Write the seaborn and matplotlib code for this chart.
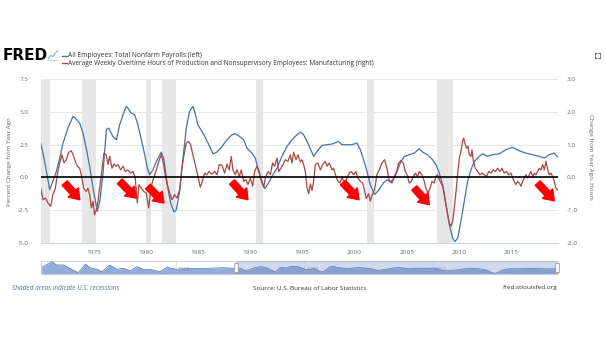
import numpy as np
import pandas as pd
import matplotlib
matplotlib.use("Agg")
import matplotlib.pyplot as plt
import seaborn as sns
from matplotlib.patches import Rectangle
from matplotlib.lines import Line2D

# ---------------- data ----------------
payroll_years = [1969.95, 1970.32, 1970.8, 1971.1, 1971.44, 1971.76, 1972.08, 1972.55, 1973.04, 1973.2,
                 1973.67, 1973.99, 1974.3, 1974.63, 1974.95, 1975.37, 1975.6, 1975.9, 1976.23, 1976.45,
                 1976.87, 1977.2, 1977.5, 1977.83, 1978.14, 1978.3, 1978.62, 1978.94, 1979.26, 1979.58,
                 1979.84, 1980.16, 1980.38, 1980.7, 1981.02, 1981.5, 1981.75, 1982.07, 1982.39, 1982.71,
                 1982.93, 1983.25, 1983.57, 1983.89, 1984.2, 1984.52, 1984.69, 1985.0, 1985.49, 1985.97,
                 1986.45, 1986.83, 1987.31, 1987.79, 1988.27, 1988.58, 1988.9, 1989.38, 1989.7, 1990.18,
                 1990.5, 1990.82, 1991.14, 1991.4, 1991.71, 1992.1, 1992.58, 1993.05, 1993.53, 1994.01,
                 1994.49, 1994.81, 1995.13, 1995.61, 1996.09, 1996.41, 1996.89, 1997.37, 1997.84, 1998.48,
                 1998.8, 1999.28, 1999.76, 2000.24, 2000.56, 2000.88, 2001.2, 2001.52, 2001.93, 2002.31,
                 2002.79, 2003.11, 2003.5, 2003.82, 2004.14, 2004.46, 2004.78, 2005.25, 2005.73, 2006.21,
                 2006.53, 2007.01, 2007.49, 2007.81, 2008.13, 2008.45, 2008.77, 2009.09, 2009.41, 2009.63,
                 2009.89, 2010.2, 2010.52, 2010.84, 2011.16, 2011.48, 2011.96, 2012.28, 2012.76, 2013.24,
                 2013.88, 2014.51, 2015.15, 2015.79, 2016.43, 2017.07, 2017.71, 2018.19, 2018.67, 2019.14,
                 2019.46]
payroll_pct = [2.6, 1.22, -0.94, -0.3, 0.46, 1.47, 2.62, 3.76, 4.65, 4.57,
               4.14, 3.38, 2.24, 0.84, -0.81, -2.59, -1.83, 0.2, 3.63, 3.76,
               3.1, 2.87, 4.0, 4.78, 5.41, 5.28, 4.9, 4.78, 4.0, 2.87,
               1.98, 0.71, 0.2, 0.58, 1.22, 1.93, 1.35, -0.56, -1.96, -2.64,
               -2.46, -1.07, 1.47, 3.76, 5.03, 5.41, 5.03, 4.0, 3.38, 2.62,
               1.8, 1.93, 2.36, 2.87, 3.25, 3.33, 3.18, 2.87, 2.24, 1.85,
               1.47, 0.46, -0.3, -0.85, -0.5, 0.08, 0.71, 1.6, 2.36, 2.87,
               3.25, 3.46, 3.25, 2.49, 1.6, 1.98, 2.44, 2.49, 2.54, 2.74,
               2.49, 2.49, 2.49, 2.62, 2.11, 1.35, 0.46, -0.56, -1.3, -1.0,
               -0.4, -0.2, -0.3, -0.05, 0.58, 1.22, 1.6, 1.73, 1.85, 2.18,
               1.93, 1.73, 1.35, 0.97, 0.33, -0.56, -2.08, -3.61, -4.62, -4.9,
               -4.62, -3.35, -1.83, -0.3, 0.58, 1.22, 1.6, 1.8, 1.6, 1.73,
               1.8, 2.11, 2.29, 2.03, 1.85, 1.73, 1.6, 1.47, 1.73, 1.85,
               1.55]

overtime_years = [1969.94, 1970.17, 1970.4, 1970.64, 1970.9, 1971.1, 1971.35, 1971.53, 1971.76, 1971.98,
                  1972.18, 1972.4, 1972.62, 1972.88, 1973.04, 1973.26, 1973.45, 1973.67, 1973.83, 1974.06,
                  1974.3, 1974.47, 1974.63, 1974.8, 1974.95, 1975.1, 1975.27, 1975.43, 1975.58, 1975.75,
                  1976.0, 1976.23, 1976.39, 1976.55, 1976.77, 1976.96, 1977.19, 1977.35, 1977.6, 1977.83,
                  1978.05, 1978.3, 1978.56, 1978.78, 1979.0, 1979.2, 1979.36, 1979.58, 1979.84, 1980.06,
                  1980.29, 1980.53, 1980.8, 1981.02, 1981.25, 1981.5, 1981.69, 1981.88, 1982.07, 1982.3,
                  1982.52, 1982.77, 1983.0, 1983.25, 1983.47, 1983.67, 1983.89, 1984.1, 1984.3, 1984.52,
                  1984.75, 1985.0, 1985.23, 1985.42, 1985.65, 1985.87, 1986.07, 1986.3, 1986.45, 1986.6,
                  1986.83, 1987.05, 1987.31, 1987.56, 1987.79, 1988.0, 1988.2, 1988.36, 1988.58, 1988.75,
                  1988.97, 1989.16, 1989.38, 1989.6, 1989.8, 1990.02, 1990.25, 1990.44, 1990.66, 1990.88,
                  1991.08, 1991.3, 1991.46, 1991.71, 1991.94, 1992.16, 1992.35, 1992.58, 1992.74, 1992.96,
                  1993.15, 1993.37, 1993.63, 1993.85, 1994.01, 1994.17, 1994.4, 1994.59, 1994.81, 1994.97,
                  1995.13, 1995.29, 1995.45, 1995.61, 1995.77, 1995.93, 1996.09, 1996.25, 1996.5, 1996.73,
                  1996.95, 1997.2, 1997.37, 1997.59, 1997.84, 1998.0, 1998.23, 1998.42, 1998.64, 1998.8,
                  1999.06, 1999.28, 1999.5, 1999.7, 1999.92, 2000.14, 2000.33, 2000.56, 2000.78, 2000.97,
                  2001.13, 2001.35, 2001.52, 2001.74, 2001.93, 2002.15, 2002.38, 2002.63, 2002.88, 2003.11,
                  2003.34, 2003.59, 2003.82, 2004.04, 2004.23, 2004.46, 2004.68, 2004.87, 2005.03, 2005.25,
                  2005.45, 2005.64, 2005.83, 2006.05, 2006.21, 2006.47, 2006.69, 2006.85, 2007.04, 2007.24,
                  2007.43, 2007.65, 2007.81, 2007.97, 2008.13, 2008.29, 2008.45, 2008.61, 2008.77, 2008.93,
                  2009.09, 2009.25, 2009.41, 2009.57, 2009.73, 2009.89, 2010.05, 2010.2, 2010.36, 2010.46,
                  2010.62, 2010.75, 2010.87, 2011.0, 2011.16, 2011.26, 2011.39, 2011.58, 2011.8, 2012.02,
                  2012.22, 2012.44, 2012.66, 2012.85, 2013.08, 2013.3, 2013.49, 2013.72, 2013.94, 2014.13,
                  2014.35, 2014.58, 2014.77, 2014.99, 2015.15, 2015.31, 2015.47, 2015.63, 2015.79, 2015.95,
                  2016.11, 2016.27, 2016.43, 2016.59, 2016.75, 2016.91, 2017.07, 2017.23, 2017.39, 2017.55,
                  2017.71, 2017.87, 2018.03, 2018.19, 2018.35, 2018.51, 2018.67, 2018.83, 2018.98, 2019.14,
                  2019.3, 2019.46]
overtime_hours = [-0.33, -0.68, -0.63, -0.78, -0.88, -0.53, -0.33, 0.08, 0.44, 0.69,
                  0.44, 0.54, 0.77, 0.81, 0.69, 0.49, 0.34, 0.28, 0.08, -0.33,
                  -0.43, -0.33, -0.53, -0.93, -0.73, -1.14, -0.99, -0.73, -0.33, 0.08,
                  0.74, 0.69, 0.39, 0.64, 0.28, 0.41, 0.34, 0.39, 0.23, 0.34,
                  0.18, 0.23, 0.13, 0.18, -0.02, -0.78, -0.22, -0.33, -0.43, -0.48,
                  -0.93, -0.27, 0.03, 0.23, 0.49, 0.69, 0.44, 0.08, -0.22, -0.48,
                  -0.68, -0.53, -0.63, -0.38, 0.28, 0.69, 1.05, 1.1, 1.0, 0.69,
                  0.39, 0.03, -0.3, -0.12, 0.13, 0.08, 0.18, 0.1, 0.13, 0.18,
                  0.08, 0.39, 0.37, 0.13, 0.41, 0.23, 0.64, 0.23, 0.08, 0.23,
                  0.03, 0.23, -0.12, -0.07, -0.22, -0.02, -0.27, 0.18, 0.34, 0.18,
                  -0.12, -0.3, -0.02, 0.18, 0.08, 0.44, 0.34, 0.59, 0.18, 0.28,
                  0.39, 0.54, 0.49, 0.69, 0.44, 0.77, 0.54, 0.69, 0.47, 0.54,
                  0.39, 0.18, -0.3, -0.5, -0.2, -0.4, -0.12, 0.39, 0.44, 0.23,
                  0.39, 0.49, 0.34, 0.44, 0.23, 0.28, 0.03, -0.12, -0.17, 0.03,
                  -0.22, -0.02, 0.13, 0.18, 0.08, 0.18, -0.02, -0.12, -0.17, -0.4,
                  -0.65, -0.5, -0.72, -0.5, -0.38, 0.08, 0.23, 0.44, 0.54, 0.28,
                  -0.12, -0.17, 0.03, 0.18, 0.44, 0.51, 0.44, 0.18, 0.08, -0.17,
                  -0.12, 0.03, 0.13, 0.03, 0.18, 0.08, -0.12, -0.33, -0.48, -0.33,
                  -0.12, -0.17, 0.03, 0.08, -0.07, -0.17, -0.27, -0.53, -0.83, -1.14,
                  -1.39, -1.49, -1.34, -0.93, -0.43, 0.13, 0.59, 0.79, 1.1, 1.2,
                  1.0, 0.89, 0.95, 0.69, 0.64, 0.84, 0.49, 0.28, 0.18, 0.08,
                  0.13, 0.08, 0.03, 0.18, 0.13, 0.23, 0.18, 0.28, 0.18, 0.28,
                  0.13, 0.18, 0.08, 0.13, -0.02, -0.12, -0.22, -0.12, -0.17, -0.27,
                  -0.12, -0.02, 0.08, -0.02, 0.08, 0.18, 0.03, 0.13, 0.08, 0.18,
                  0.28, 0.23, 0.39, 0.23, 0.49, 0.23, 0.08, 0.13, 0.03, -0.12,
                  -0.33, -0.38]

# navigator history (payroll % change, 1939-1969)
nav_years = [1939.1, 1940.7, 1941.4, 1942.5, 1943.5, 1944.8, 1945.9, 1946.6, 1947.7, 1948.5,
             1949.7, 1950.8, 1951.8, 1952.9, 1953.9, 1954.9, 1956.0, 1957.5, 1958.6, 1960.1,
             1962.2, 1964.8, 1967.4, 1969.2]
nav_pct = [3.8, 12.0, 7.2, 7.2, 2.3, -4.1, 8.6, 3.2, 0.9, -2.6,
           7.2, 0.9, 2.3, -1.2, 4.7, 0.9, 0.9, -2.6, 3.8, 0.9,
           2.3, 2.3, 3.2, 2.3]

recessions = [(1969.92, 1970.87), (1973.87, 1975.2), (1980.0, 1980.54), (1981.54, 1982.87),
              (1990.54, 1991.2), (2001.2, 2001.87), (2007.92, 2009.45)]

x_ticks = [1975, 1980, 1985, 1990, 1995, 2000, 2005, 2010, 2015]
x_labels = ["1975", "1980", "1985", "1990", "1995", "2000", "2005", "2010", "2015"]
left_ticks = [7.5, 5.0, 2.5, 0.0, -2.5, -5.0]
left_labels = ["7.5", "5.0", "2.5", "0.0", "-2.5", "-5.0"]
right_ticks = [3.0, 2.0, 1.0, 0.0, -1.0, -2.0]
right_labels = ["3.0", "2.0", "1.0", "0.0", "-1.0", "-2.0"]
nav_ticks = [1960, 1980, 2000]

# red arrow annotations (left-axis data coordinates)
arrow_tail_x = [1972.24, 1977.51, 1980.22, 1988.27, 1998.90, 2005.73, 2017.55]
arrow_tail_y = [-0.43, -0.30, -0.69, -0.35, -0.40, -0.81, -0.43]
arrow_head_x = [1973.68, 1979.10, 1981.75, 1989.80, 2000.43, 2007.17, 2019.14]
arrow_head_y = [-1.70, -1.57, -1.95, -1.70, -1.70, -2.08, -1.78]

BLUE = "#4572a7"
RED = "#aa4643"
GRAY = "#666666"

# ---------------- figure ----------------
sns.set_theme(style="white")
plt.rcParams['font.family'] = ['Open Sans', 'DejaVu Sans']

W, H = 605, 341
fig = plt.figure(figsize=(W / 100, H / 100), dpi=100)
fig.patch.set_facecolor("white")

def fx(px):
    return px / W

def fy(py):
    return 1 - py / H

ax = fig.add_axes([fx(41), fy(243), fx(558) - fx(41), fy(79) - fy(243)])
for a, b in recessions:
    ax.axvspan(a, b, color="#e6e6e6", lw=0, zorder=0)

df_pay = pd.DataFrame({"year": payroll_years, "pct": payroll_pct})
df_ot = pd.DataFrame({"year": overtime_years, "hours": overtime_hours})

sns.lineplot(data=df_pay, x="year", y="pct", ax=ax, color=BLUE, lw=0.9, sort=False, zorder=3)
ax.set_xlim(1969.97, 2019.5)
ax.set_ylim(-5, 7.5)
ax.set_yticks(left_ticks)
ax.set_yticklabels(left_labels)
ax.set_xticks(x_ticks)
ax.set_xticklabels(x_labels)
ax.grid(axis="y", color="#e6e6e6", lw=0.7, zorder=1)
ax.grid(axis="x", visible=False)
ax.set_axisbelow(True)
ax.set_xlabel("")
ax.set_ylabel("")
for s in ["top", "left", "right"]:
    ax.spines[s].set_visible(False)
ax.spines["bottom"].set_color("#ccd6eb")
ax.spines["bottom"].set_linewidth(0.8)
ax.tick_params(axis="x", length=0, labelsize=4.6, labelcolor=GRAY, pad=5)
ax.tick_params(axis="y", length=0, labelsize=4.6, labelcolor=GRAY, pad=9)

ax2 = ax.twinx()
sns.lineplot(data=df_ot, x="year", y="hours", ax=ax2, color=RED, lw=0.9, sort=False, zorder=3)
ax2.set_ylim(-2, 3)
ax2.set_yticks(right_ticks)
ax2.set_yticklabels(right_labels)
ax2.set_xlim(1969.97, 2019.5)
ax2.set_ylabel("")
ax2.grid(False)
for s in ["top", "left", "right", "bottom"]:
    ax2.spines[s].set_visible(False)
ax2.tick_params(axis="y", length=0, labelsize=4.6, labelcolor=GRAY, pad=6)
ax2.axhline(0, color="black", lw=1.2, zorder=4)

for tx, ty, hx, hy in zip(arrow_tail_x, arrow_tail_y, arrow_head_x, arrow_head_y):
    ax2.annotate("", xy=(hx, hy), xytext=(tx, ty), xycoords=ax.transData, textcoords=ax.transData,
                 arrowprops=dict(arrowstyle="simple,head_width=1.0,head_length=0.7,tail_width=0.48",
                                 color="#ff0000", mutation_scale=10, shrinkA=0, shrinkB=0),
                 zorder=6)

# axis titles
fig.text(fx(10), fy(162), "Percent Change from Year Ago", rotation=90, ha="center", va="center",
         fontsize=4.5, color=GRAY)
fig.text(fx(591), fy(157), "Change from Year Ago, Hours", rotation=270, ha="center", va="center",
         fontsize=4.5, color=GRAY)

# ---------------- navigator ----------------
nav = fig.add_axes([fx(41), fy(274), fx(558) - fx(41), fy(261) - fy(274)])
df_nav = pd.DataFrame({"year": nav_years + payroll_years, "pct": nav_pct + payroll_pct})
nav.fill_between(df_nav["year"], df_nav["pct"], -6, color="#94acd9", lw=0, zorder=2)
sns.lineplot(data=df_nav, x="year", y="pct", ax=nav, color=BLUE, lw=0.5, sort=False, zorder=3)
nav.set_xlim(1939, 2019.5)
nav.set_ylim(-6, 13)
nav.axvspan(1969.4, 2019.5, color=(102 / 255, 133 / 255, 194 / 255, 0.3), lw=0, zorder=4)
for t in nav_ticks:
    nav.axvline(t, color="#e0e0e0", lw=0.5, zorder=1)
    nav.text(t + 0.3, 0.32, str(t), transform=nav.get_xaxis_transform(), fontsize=4.0,
             color="#7f8fa8", va="center", ha="left", zorder=5, alpha=0.8)
nav.set_xticks([])
nav.set_yticks([])
nav.set_xlabel("")
nav.set_ylabel("")
for s in nav.spines.values():
    s.set_color("#c8c8c8")
    s.set_linewidth(0.5)
for hxp in [236, 556.5]:
    fig.patches.append(Rectangle((fx(hxp - 2), fy(272)), fx(4), fy(263) - fy(272),
                                 transform=fig.transFigure, fc="#f2f2f2", ec="#999999", lw=0.5,
                                 zorder=10))

# ---------------- header ----------------
fig.text(fx(2.5), fy(56), "FRED", fontsize=11, fontweight="heavy", color="black",
         ha="left", va="center", family="DejaVu Sans")
fig.add_artist(Line2D([fx(48), fx(50.5), fx(53), fx(55.5), fx(58)],
                      [fy(59), fy(55.5), fy(56.5), fy(52.5), fy(51)], color="#7fb3e0", lw=0.8))
fig.add_artist(Line2D([fx(48), fx(58)], [fy(59.5), fy(59.5)], color="#b5cfe8", lw=0.6))
fig.add_artist(Line2D([fx(61.5), fx(67)], [fy(55.7), fy(55.7)], color=BLUE, lw=1.0))
fig.text(fx(68.5), fy(55.7), "All Employees: Total Nonfarm Payrolls (left)", fontsize=4.8,
         color="#333333", ha="left", va="center")
fig.add_artist(Line2D([fx(61.5), fx(67)], [fy(63.3), fy(63.3)], color=RED, lw=1.0))
fig.text(fx(68.5), fy(63.3),
         "Average Weekly Overtime Hours of Production and Nonsupervisory Employees: Manufacturing (right)",
         fontsize=4.7, color="#333333", ha="left", va="center")

# expand icon
for (x0, y0, dx, dy) in [(595, 53, 1, 1), (600, 53, -1, 1), (595, 58, 1, -1), (600, 58, -1, -1)]:
    fig.add_artist(Line2D([fx(x0), fx(x0), fx(x0 + 1.8 * dx)],
                          [fy(y0 + 1.8 * dy), fy(y0), fy(y0)], color="#555555", lw=0.6))

# ---------------- footer ----------------
fig.text(fx(12), fy(288), "Shaded areas indicate U.S. recessions", fontsize=4.7, style="italic",
         color=BLUE, ha="left", va="center")
fig.text(fx(253), fy(288), "Source: U.S. Bureau of Labor Statistics", fontsize=4.6, color="#333333",
         ha="left", va="center")
fig.text(fx(558), fy(288), "fred.stlouisfed.org", fontsize=4.6, color="#333333",
         ha="right", va="center")

fig.savefig("out.png", dpi=100, facecolor="white")
